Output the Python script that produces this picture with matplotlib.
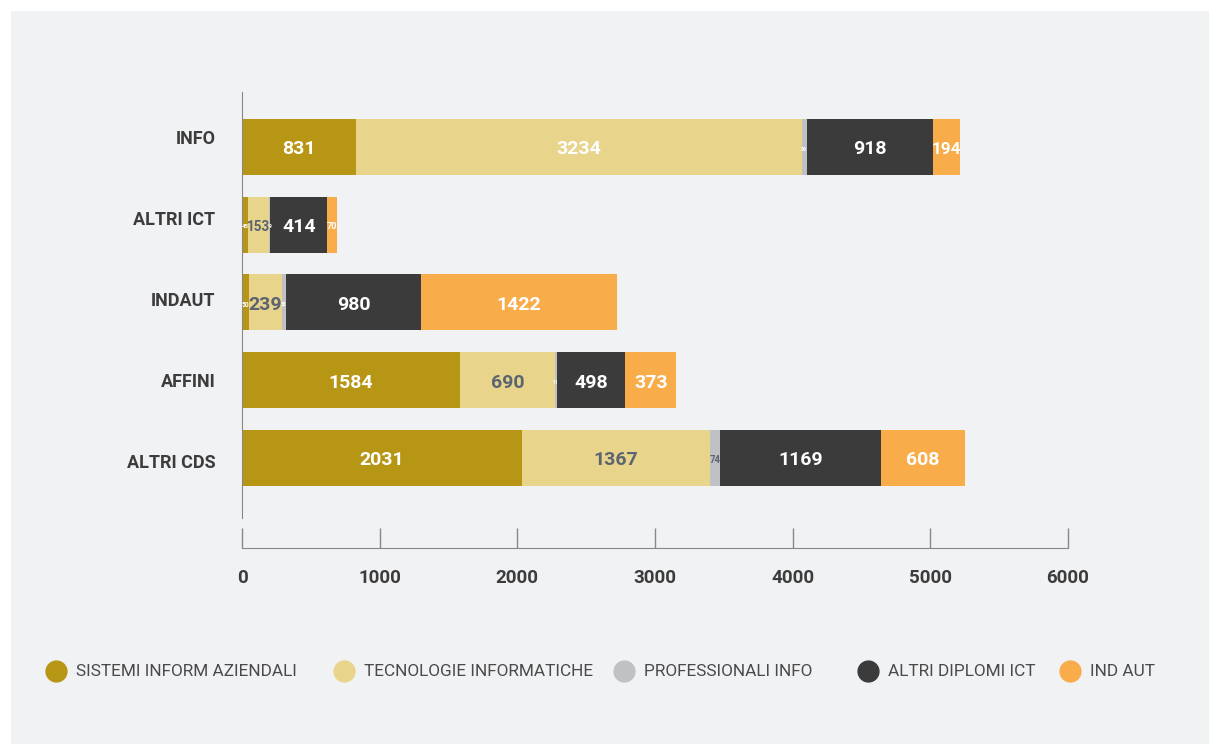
import matplotlib
matplotlib.use('Agg')
import matplotlib.pyplot as plt
from matplotlib.patches import Rectangle
import numpy as np

# data
categories = ['INFO', 'ALTRI ICT', 'INDAUT', 'AFFINI', 'ALTRI CDS']
series_names = ['SISTEMI INFORM AZIENDALI', 'TECNOLOGIE INFORMATICHE',
                'PROFESSIONALI INFO', 'ALTRI DIPLOMI ICT', 'IND AUT']
sistemi = [831, 45, 50, 1584, 2031]
tecnologie = [3234, 153, 239, 690, 1367]
professionali = [39, 9, 33, 11, 74]
altri_diplomi = [918, 414, 980, 498, 1169]
ind_aut = [194, 70, 1422, 373, 608]
xticks = [0, 1000, 2000, 3000, 4000, 5000, 6000]

colors = ['#b79616', '#e8d48b', '#c0c1c5', '#3b3b3b', '#f9ac4a']
label_colors = ['white', '#5b6470', '#5b6470', 'white', 'white']

plt.rcParams['font.family'] = ['Roboto', 'DejaVu Sans']

W, H = 1209, 744
fig = plt.figure(figsize=(W / 100, H / 100), dpi=100, facecolor='white')
fig.patches.append(Rectangle((11 / W, 0), 1 - 11 / W, 1 - 11 / H,
                             transform=fig.transFigure, facecolor='#f1f2f4',
                             edgecolor='none', zorder=-10))

ax = fig.add_axes([242 / W, 1 - 518 / H, (1068 - 242) / W, (518 - 92) / H])
ax.set_facecolor('none')
for s in ['top', 'right']:
    ax.spines[s].set_visible(False)
ax.spines['left'].set_color('#888888')
ax.spines['bottom'].set_color('#888888')
ax.spines['bottom'].set_position(('outward', 21.6))

data = [sistemi, tecnologie, professionali, altri_diplomi, ind_aut]
y = np.arange(len(categories))
left = np.zeros(len(categories))
px_per_unit = (1068 - 242) / 6000
for i, vals in enumerate(data):
    vals = np.array(vals, dtype=float)
    ax.barh(y, vals, left=left, height=0.72, color=colors[i], label=series_names[i])
    for j, v in enumerate(vals):
        cx = left[j] + v / 2
        width_px = v * px_per_unit
        s = '%d' % v
        fs = min(14, width_px / (len(s) * 0.72))
        fs = max(fs, 3.5)
        tc = label_colors[i]
        if i == 1 and v > 3000:
            tc = 'white'
        if i == 2 and v < 50:
            tc = 'white'
        ax.text(cx, j + 0.03, s, ha='center', va='center', fontsize=fs,
                fontweight='bold', color=tc)
    left += vals

ax.set_xlim(0, 6000)
ax.set_ylim(4.77, -0.705)
# category labels sit on a slightly wider spacing than the bars in the reference
ax.set_yticks(y * 1.0416 - 0.128)
ax.set_yticklabels(categories, fontsize=13, fontweight='bold', color='#3c3c3c')
ax.tick_params(axis='y', length=0, pad=19)
ax.set_xticks(xticks)
ax.set_xticklabels([str(t) for t in xticks], fontsize=13.5, fontweight='bold', color='#3c3c3c')
ax.tick_params(axis='x', direction='in', length=14.4, width=1, color='#888888', pad=15)

# legend drawn by hand, item positions in pixels
leg_x = [56, 344, 624, 868, 1070]
leg_y = 1 - 671 / H
for i, name in enumerate(series_names):
    fig.add_artist(plt.Line2D([leg_x[i] / W], [leg_y], marker='o', markersize=15,
                              color=colors[i], linestyle='none', transform=fig.transFigure))
    fig.text((leg_x[i] + 20) / W, leg_y, name, fontsize=12.4, color='#4a4a4a',
             ha='left', va='center')

fig.savefig('out.png', dpi=100, facecolor=fig.get_facecolor())
